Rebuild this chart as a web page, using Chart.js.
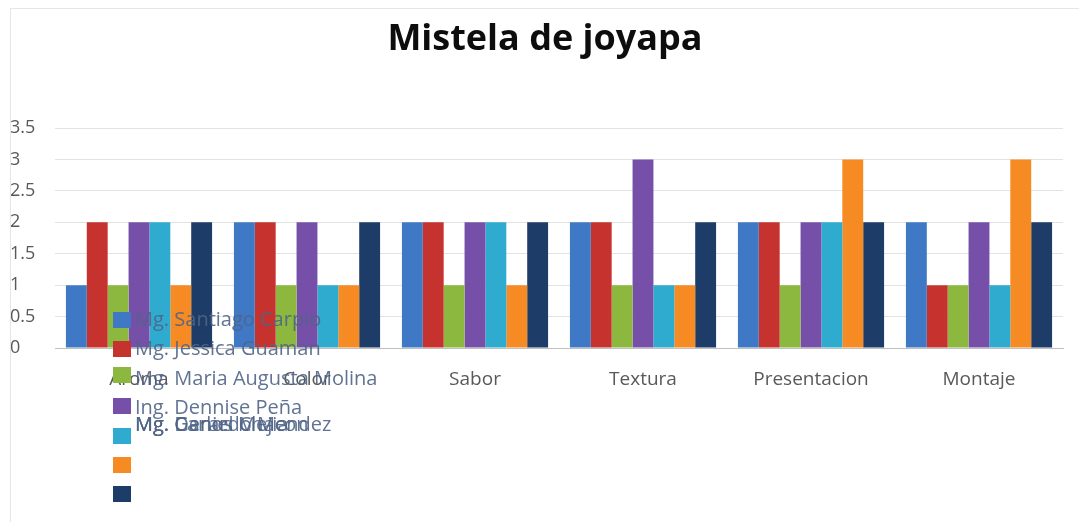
<!DOCTYPE html>
<html>
<head>
<meta charset="utf-8">
<script src="https://cdn.jsdelivr.net/npm/chart.js@4.4.1/dist/chart.umd.min.js"></script>
<style>
  html, body { margin: 0; padding: 0; background: #ffffff; }
  #wrap { position: relative; width: 1079px; height: 522px; }
</style>
</head>
<body>
<div id="wrap"><canvas id="c" width="1079" height="522"></canvas></div>
<script>
const chartTitle = "Mistela de joyapa";
const categories = ["Aroma", "Color", "Sabor", "Textura", "Presentacion", "Montaje"];
const seriesNames = [
  "Mg. Santiago Carpio",
  "Mg. Jessica Guaman",
  "Mg. Maria Augusta Molina",
  "Ing. Dennise Peña",
  "Mg. Gerardo Mendez",
  "Mg. Carlos Mejia",
  "Mg. Daniel Chacon"
];
const santiago = [1, 2, 2, 2, 2, 2];
const jessica  = [2, 2, 2, 2, 2, 1];
const maria    = [1, 1, 1, 1, 1, 1];
const dennise  = [2, 2, 2, 3, 2, 2];
const gerardo  = [2, 1, 2, 1, 2, 1];
const carlos   = [1, 1, 1, 1, 3, 3];
const daniel   = [2, 2, 2, 2, 2, 2];
const yTicks = [0, 0.5, 1, 1.5, 2, 2.5, 3, 3.5];

const seriesValues = [santiago, jessica, maria, dennise, gerardo, carlos, daniel];
const seriesColors = ["#3f78c4", "#c6332f", "#8cb83f", "#7650a8", "#2fabcf", "#f58b22", "#1d3d68"];

const datasets = seriesNames.map((n, i) => ({
  label: n,
  data: seriesValues[i],
  backgroundColor: seriesColors[i],
  borderWidth: 0,
  barPercentage: 1.0,
  categoryPercentage: 0.87
}));

const FONT = "'Open Sans', 'DejaVu Sans', sans-serif";

const overlayPlugin = {
  id: 'overlay',
  afterDraw(chart) {
    const ctx = chart.ctx;
    ctx.save();
    // frame
    ctx.strokeStyle = '#e6e6e6';
    ctx.lineWidth = 1;
    ctx.strokeRect(10.5, 8.5, 1079, 600);
    // title
    ctx.fillStyle = '#0d0d0d';
    ctx.font = "bold 36px " + FONT;
    ctx.textAlign = 'center';
    ctx.textBaseline = 'middle';
    ctx.fillText(chartTitle, 545, 40);
    // legend (overlapping, as in the reference)
    const swatchY = [320, 349, 375, 406, 436, 465, 494];
    const textY = [320, 349, 379, 408, 425, 425, 425];
    ctx.font = "20px " + FONT;
    ctx.textAlign = 'left';
    chart.data.datasets.forEach((ds, i) => {
      ctx.fillStyle = ds.backgroundColor;
      ctx.fillRect(113, swatchY[i] - 8, 18, 16);
      ctx.fillStyle = 'rgba(80,100,135,0.9)';
      ctx.fillText(ds.label, 135, textY[i]);
    });
    ctx.restore();
  }
};

new Chart(document.getElementById('c'), {
  type: 'bar',
  data: { labels: categories, datasets: datasets },
  options: {
    responsive: false,
    animation: false,
    layout: { padding: { top: 128, left: 10, right: 16, bottom: 0 } },
    plugins: {
      legend: { display: false },
      title: { display: false },
      tooltip: { enabled: false }
    },
    scales: {
      x: {
        grid: { display: false, drawTicks: false },
        border: { display: true, color: '#bfbfbf' },
        ticks: { color: '#595959', font: { family: FONT, size: 19 }, padding: 20 },
        afterFit(s) { s.height = 174; }
      },
      y: {
        min: 0, max: 3.5,
        afterBuildTicks(s) { s.ticks = yTicks.map(v => ({ value: v })); },
        grid: { color: '#e3e3e3', drawTicks: false },
        border: { display: false },
        ticks: {
          color: '#595959', font: { family: FONT, size: 18 },
          crossAlign: 'far', padding: 8,
          callback: v => String(v)
        },
        afterFit(s) { s.width = 45; }
      }
    }
  },
  plugins: [overlayPlugin]
});
</script>
</body>
</html>
